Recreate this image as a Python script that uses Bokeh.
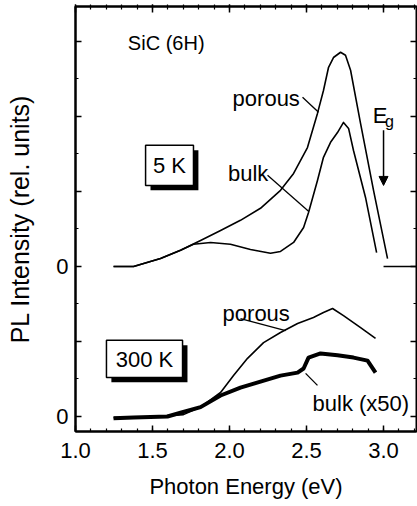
from bokeh.plotting import figure
from bokeh.models import (Range1d, FixedTicker, LinearAxis, Label, Arrow, NormalHead,
                          BoxAnnotation, PrintfTickFormatter, CustomJSTickFormatter)
from bokeh.embed import file_html
from bokeh.resources import INLINE

# ---- data ----
# 5 K spectra (intensity relative to their own baseline, offset by 4 units)
porous_5k_e = [1.247, 1.377, 1.552, 1.682, 1.812, 1.942, 2.071, 2.201, 2.331, 2.416,
               2.506, 2.571, 2.610, 2.643, 2.675, 2.721, 2.753, 2.786, 2.851, 2.935, 3.026]
porous_5k_i = [0.00, 0.00, 0.21, 0.43, 0.69, 0.96, 1.23, 1.55, 2.03, 2.48,
               3.17, 4.08, 4.69, 5.31, 5.57, 5.71, 5.63, 5.23, 3.81, 2.03, 0.21]
bulk_5k_e = [1.247, 1.377, 1.552, 1.682, 1.766, 1.877, 2.006, 2.136, 2.266, 2.331,
             2.416, 2.481, 2.513, 2.571, 2.610, 2.656, 2.701, 2.740, 2.773, 2.805,
             2.883, 2.955]
bulk_5k_i = [0.00, 0.00, 0.21, 0.43, 0.59, 0.64, 0.59, 0.45, 0.35, 0.40,
             0.64, 1.04, 1.44, 2.29, 2.91, 3.31, 3.57, 3.84, 3.68, 3.09,
             1.84, 0.37]
# 300 K spectra
porous_300k_e = [1.247, 1.487, 1.701, 1.812, 1.942, 2.026, 2.117, 2.221, 2.331, 2.442,
                 2.545, 2.610, 2.669, 2.740, 2.851, 2.948]
porous_300k_i = [-0.03, -0.01, 0.05, 0.25, 0.64, 1.09, 1.55, 1.97, 2.24, 2.48,
                 2.64, 2.77, 2.88, 2.69, 2.37, 2.08]
bulk_300k_e = [1.247, 1.377, 1.597, 1.682, 1.812, 1.942, 2.071, 2.201, 2.331, 2.442,
               2.481, 2.513, 2.591, 2.701, 2.805, 2.896, 2.948]
bulk_300k_i = [-0.05, -0.03, 0.00, 0.10, 0.25, 0.56, 0.77, 0.93, 1.09, 1.17,
               1.28, 1.57, 1.68, 1.63, 1.57, 1.49, 1.17]

offset_5k = 4.0
offset_300k = 0.0

x_major = [1.0, 1.5, 2.0, 2.5, 3.0]
x_minor = [round(1.0 + 0.1 * i, 1) for i in range(23)]
y_major = [0, 2, 4, 6, 8, 10]
y_minor = [1, 3, 5, 7, 9]
y_labels = {0: "0", 2: "", 4: "0", 6: "", 8: "", 10: ""}

FONT = "Liberation Sans"

p = figure(width=417, height=506, output_backend="svg", toolbar_location=None,
           x_range=Range1d(1.0, 3.214), y_range=Range1d(-0.4, 10.93),
           min_border_left=75, min_border_right=0, min_border_top=6, min_border_bottom=75,
           x_axis_label="Photon Energy (eV)", y_axis_label="PL Intensity (rel. units)")
p.grid.visible = False
p.outline_line_color = "black"
p.outline_line_width = 2
p.outline_line_alpha = 1
p.background_fill_color = "white"
p.border_fill_color = "white"

def style_axis(ax, ticks, minor, show_labels=True):
    ax.ticker = FixedTicker(ticks=ticks, minor_ticks=minor)
    ax.axis_line_width = 2
    ax.axis_line_color = "black"
    ax.major_tick_in = 6
    ax.major_tick_out = 0
    ax.minor_tick_in = 3
    ax.minor_tick_out = 0
    ax.major_tick_line_width = 1.5
    ax.minor_tick_line_width = 1.2
    ax.major_tick_line_color = "black"
    ax.minor_tick_line_color = "black"
    ax.major_label_text_font = FONT
    ax.major_label_text_color = "black"
    ax.axis_label_text_font = FONT
    ax.axis_label_text_font_style = "normal"
    ax.axis_label_text_color = "black"
    if show_labels:
        ax.major_label_text_font_size = "22px"
    else:
        ax.formatter = CustomJSTickFormatter(code="return ''")
        ax.major_label_text_font_size = "10px"
        ax.major_label_standoff = 0
        ax.major_tick_out = 1
        ax.minor_tick_out = 1

xa = p.xaxis[0]
style_axis(xa, x_major, x_minor)
xa.formatter = PrintfTickFormatter(format="%.1f")
xa.major_label_standoff = 11
xa.axis_label_standoff = 13
xa.axis_label_text_font_size = "22px"

ya = p.yaxis[0]
style_axis(ya, y_major, y_minor)
ya.major_label_overrides = y_labels
ya.major_label_standoff = 7
ya.axis_label_standoff = 19
ya.axis_label_text_font_size = "25px"

top = LinearAxis()
style_axis(top, x_major, x_minor, show_labels=False)
top.major_tick_out = 2
top.minor_tick_out = 2
p.add_layout(top, "above")
right = LinearAxis()
style_axis(right, y_major, y_minor, show_labels=False)
right.axis_line_color = None
p.add_layout(right, "right")

# ---- curves ----
lw = 1.6
p.line(porous_5k_e, [v + offset_5k for v in porous_5k_i], line_color="black", line_width=lw,
       line_join="round")
p.line(bulk_5k_e, [v + offset_5k for v in bulk_5k_i], line_color="black", line_width=lw,
       line_join="round")
p.line(porous_300k_e, [v + offset_300k for v in porous_300k_i], line_color="black",
       line_width=lw, line_join="round")
p.line(bulk_300k_e, [v + offset_300k for v in bulk_300k_i], line_color="black", line_width=4,
       line_join="round")

# baseline marker at right (5 K zero)
p.segment(x0=[3.0], y0=[offset_5k], x1=[3.23], y1=[offset_5k], line_color="black", line_width=1.5)

# ---- annotations ----
def lab(x, y, t, size="22px", base="alphabetic", align="left"):
    p.add_layout(Label(x=x, y=y, text=t, text_font=FONT, text_font_size=size,
                       text_color="black", text_baseline=base, text_align=align))

lab(1.34, 9.97, "SiC (6H)", size="20px", base="middle")
lab(2.02, 8.48, "porous")
p.segment(x0=[2.474], y0=[8.51], x1=[2.578], y1=[8.11], line_color="black", line_width=1.3)
lab(1.99, 6.48, "bulk")
p.segment(x0=[2.247], y0=[6.43], x1=[2.513], y1=[5.47], line_color="black", line_width=1.3)

# 5 K box with shadow
p.add_layout(BoxAnnotation(left=1.487, right=1.798, bottom=6.03, top=7.10,
                           fill_color="black", fill_alpha=1, line_color=None))
p.add_layout(BoxAnnotation(left=1.455, right=1.766, bottom=6.16, top=7.23,
                           fill_color="white", fill_alpha=1, line_color="black",
                           line_alpha=1, line_width=1.5))
lab(1.61, 6.69, "5 K", base="middle", align="center")

# E_g arrow
lab(2.93, 8.02, "E")
lab(3.01, 7.86, "g", size="16px")
p.add_layout(Arrow(end=NormalHead(size=9, fill_color="black", line_color="black"),
                   x_start=3.0, y_start=7.63, x_end=3.0, y_end=6.16,
                   line_color="black", line_width=1.5))

# 300 K
lab(1.955, 2.75, "porous")
p.segment(x0=[2.071], y0=[2.61], x1=[2.364], y1=[2.29], line_color="black", line_width=1.3)
p.add_layout(BoxAnnotation(left=1.233, right=1.727, bottom=0.91, top=1.90,
                           fill_color="black", fill_alpha=1, line_color=None))
p.add_layout(BoxAnnotation(left=1.201, right=1.695, bottom=1.04, top=2.03,
                           fill_color="white", fill_alpha=1, line_color="black",
                           line_alpha=1, line_width=1.5))
lab(1.448, 1.52, "300 K", base="middle", align="center")
lab(2.539, 0.35, "bulk (x50)")
p.segment(x0=[2.494], y0=[1.15], x1=[2.571], y1=[0.83], line_color="black", line_width=1.3)

open("out.html", "w").write(file_html(p, INLINE))
